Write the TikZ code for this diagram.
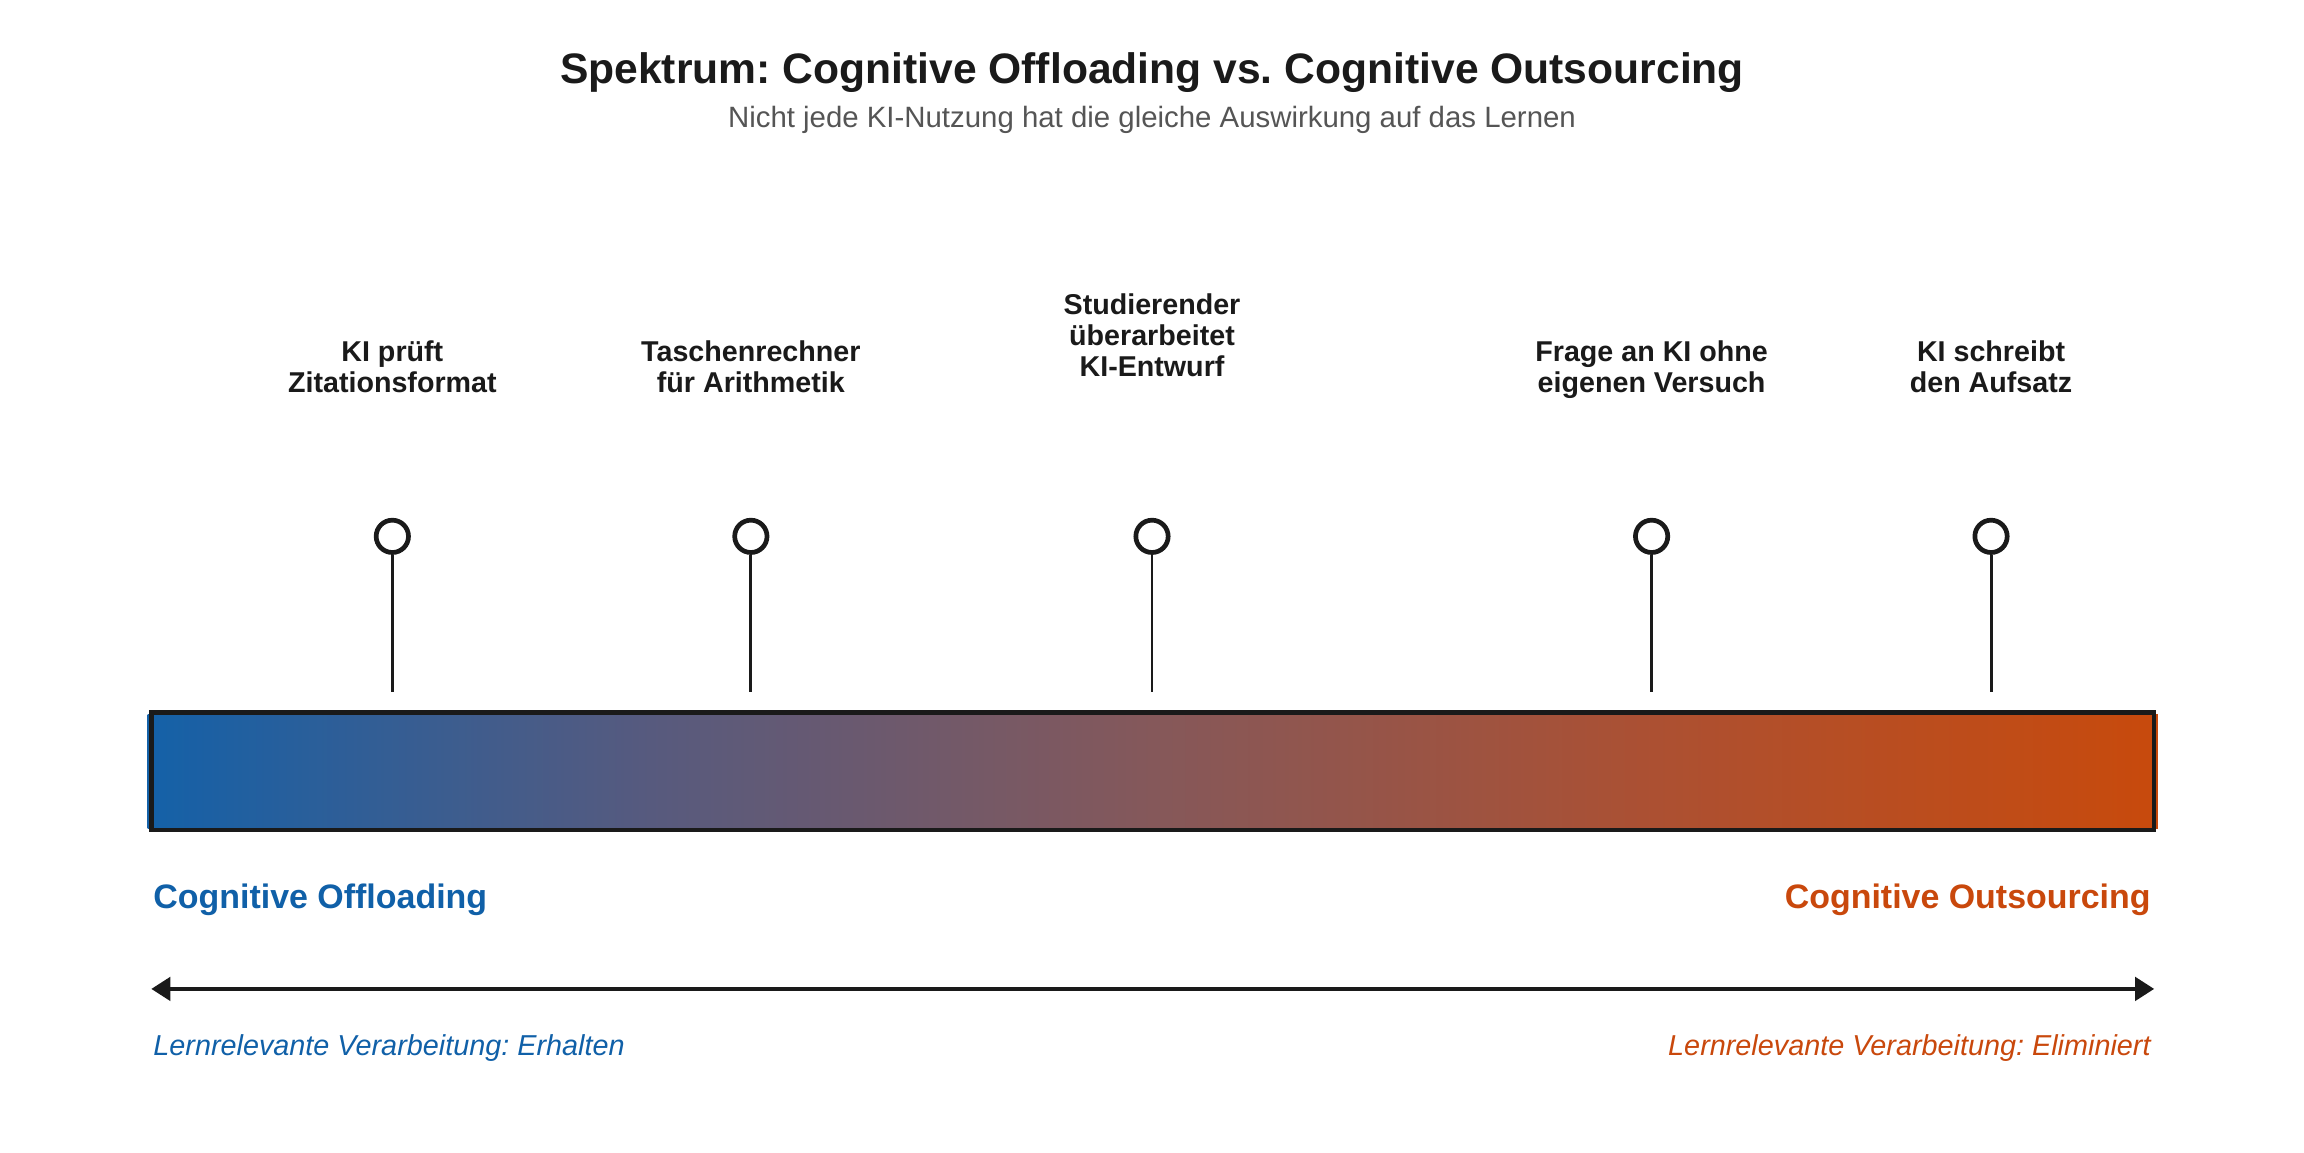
\documentclass[tikz,border=0pt]{standalone}
\usepackage{fontspec}
\setmainfont{Liberation Sans}
\usetikzlibrary{arrows.meta}
\frenchspacing
\definecolor{ink}{HTML}{1A1A1A}
\definecolor{subgray}{HTML}{555555}
\definecolor{offblue}{HTML}{1060A8}
\definecolor{outorange}{HTML}{C9480C}
\definecolor{sc0}{HTML}{1461A8}
\definecolor{sc1}{HTML}{575A7E}
\definecolor{sc2}{HTML}{85585A}
\definecolor{sc3}{HTML}{AC5032}
\definecolor{sc4}{HTML}{C84A0C}
\pgfdeclarehorizontalshading{spectrum}{100bp}{color(0bp)=(sc0); color(25bp)=(sc0); color(37.5bp)=(sc1); color(50bp)=(sc2); color(62.5bp)=(sc3); color(75bp)=(sc4); color(100bp)=(sc4)}
\tikzset{
  titletext/.style={font=\fontsize{14.5pt}{17pt}\selectfont\bfseries, text=ink, inner sep=0},
  subtext/.style={font=\fontsize{10pt}{12pt}\selectfont, text=subgray, inner sep=0},
  lbl/.style={font=\fontsize{9.75pt}{10.5pt}\selectfont\bfseries, text=ink, align=center, inner sep=0},
  marker/.style={circle, draw=ink, fill=white, line width=1.6pt, minimum size=11pt, inner sep=0},
  stem/.style={draw=ink, line width=1pt},
  barbox/.style={draw=ink, line width=1.5pt, minimum width=681.5pt, minimum height=40pt, inner sep=0},
  endlbl/.style={font=\fontsize{11.55pt}{14pt}\selectfont\bfseries, inner sep=0},
  notelbl/.style={font=\fontsize{9.8pt}{12pt}\selectfont\itshape, inner sep=0},
  axisarrow/.style={draw=ink, line width=1.2pt, {Triangle[length=6.5pt,width=8pt]}-{Triangle[length=6.5pt,width=8pt]}}
}
\begin{document}
\begin{tikzpicture}[x=0.5pt,y=-0.5pt]
\useasboundingbox[fill=white] (0,0) rectangle (1568,784);
% titles
\node[titletext, anchor=base] (title) at (784,57) {Spektrum: Cognitive Offloading vs. Cognitive Outsourcing};
\node[subtext, anchor=base] (subtitle) at (784,87) {Nicht jede KI-Nutzung hat die gleiche Auswirkung auf das Lernen};
% gradient bar
\shade[shading=spectrum] (100.5,486.5) rectangle (1468.5,563.5);
\node[barbox] (bar) at (784.5,525) {};
% markers
\foreach \i/\x in {1/267,2/511,3/784,4/1124,5/1355}{
  \node[marker] (m\i) at (\x,365) {};
  \coordinate (s\i) at (\x,471);
  \draw[stem] (m\i.south) -- (s\i);
}
% labels (base = baseline of last line)
\node[lbl, anchor=base] (l1) at (267,267) {KI prüft\\Zitationsformat};
\node[lbl, anchor=base] (l2) at (511,267) {Taschenrechner\\für Arithmetik};
\node[lbl, anchor=base] (l3) at (784,256) {Studierender\\überarbeitet\\KI-Entwurf};
\node[lbl, anchor=base] (l4) at (1124,267) {Frage an KI ohne\\eigenen Versuch};
\node[lbl, anchor=base] (l5) at (1355,267) {KI schreibt\\den Aufsatz};
% end labels
\node[endlbl, text=offblue, anchor=base west] (offl) at (104,618) {Cognitive Offloading};
\node[endlbl, text=outorange, anchor=base east] (outl) at (1464,618) {Cognitive Outsourcing};
% axis arrow
\coordinate (al) at (103,673);
\coordinate (ar) at (1466,673);
\draw[axisarrow] (al) -- (ar);
% notes
\node[notelbl, text=offblue, anchor=base west] (offn) at (104,718) {Lernrelevante Verarbeitung: Erhalten};
\node[notelbl, text=outorange, anchor=base east] (outn) at (1464,718) {Lernrelevante Verarbeitung: Eliminiert};
\end{tikzpicture}
\end{document}
